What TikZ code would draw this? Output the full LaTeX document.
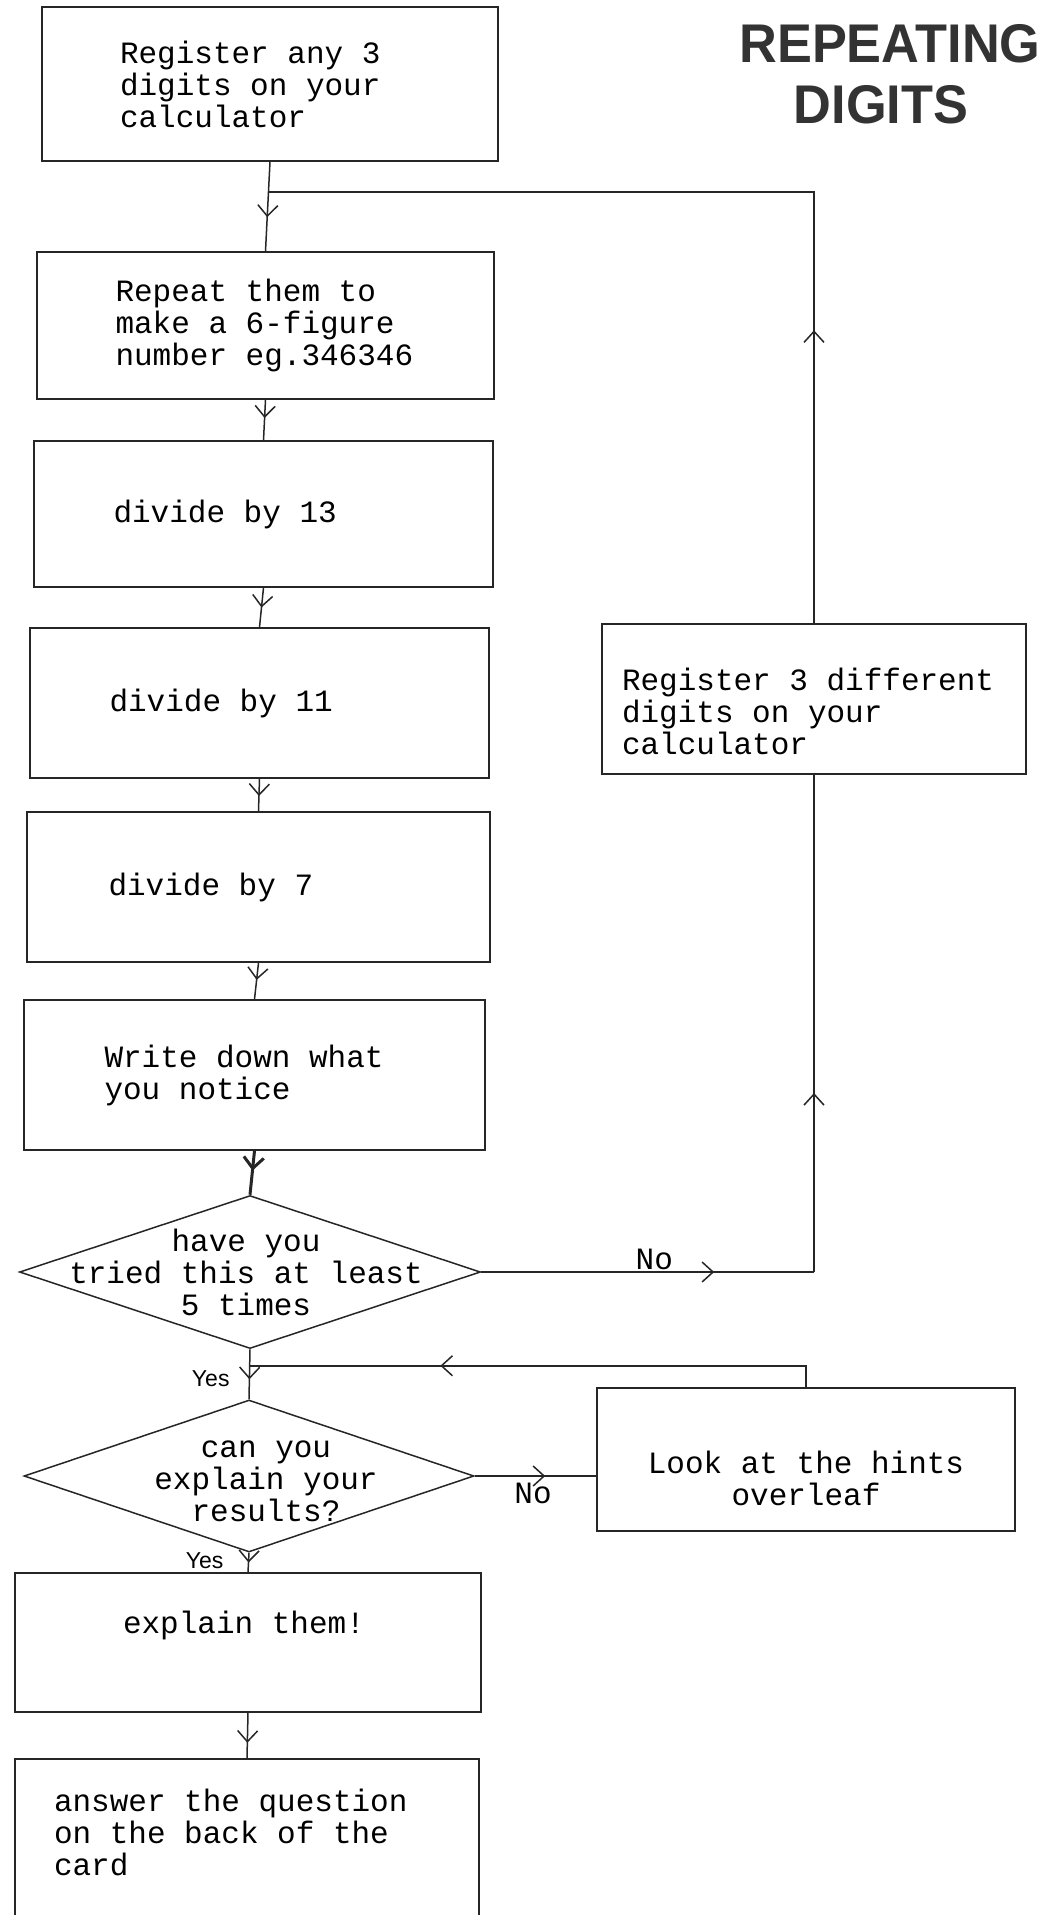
\documentclass[tikz,border=0pt]{standalone}
\usepackage{fontspec}
\usetikzlibrary{arrows.meta,shapes.geometric,decorations.markings,calc}
\newfontfamily\cardfont{Liberation Mono}
\newfontfamily\handfont{Liberation Sans}
\newfontfamily\titlefont{Liberation Sans}[FakeStretch=0.96]

\begin{document}
\begin{tikzpicture}[
    x=1pt, y=-1pt,
    stepbox/.style={
      draw=black!85,
      line width=1.5pt,
      text width=300pt,
      align=flush left,
      inner sep=0pt,
      font=\cardfont\fontsize{31}{32}\selectfont
    },
    decide/.style={
      diamond,
      draw=black!85,
      line width=1.5pt,
      inner sep=0pt
    },
    asktext/.style={align=flush center, inner sep=0pt, font=\cardfont\fontsize{31}{32}\selectfont},
    flow/.style={
      draw=black!85,
      line width=1.5pt,
      postaction={decorate},
      decoration={markings, mark=at position #1 with {\arrow{Straight Barb[length=11pt,width=20pt]}}}
    },
    flow/.default=0.5,
    yesno/.style={inner sep=0pt, font=\handfont\fontsize{23}{23}\selectfont},
    nolabel/.style={inner sep=0pt, font=\cardfont\fontsize{31}{31}\selectfont},
    titletext/.style={anchor=base, inner sep=0pt, text=black!80, font=\titlefont\bfseries\fontsize{54.5}{60}\selectfont}
  ]
    \useasboundingbox (0,0) rectangle (1055,1915);
    \clip (0,0) rectangle (1055,1915);

    \node[titletext] (titletop) at (890,62) {REPEATING};
    \node[titletext] (titlebottom) at (881,123) {DIGITS};

    \node[stepbox, minimum width=456pt, minimum height=154pt] (reg) at (270,84) {Register any 3\\digits on your\\calculator};
    \node[stepbox, minimum width=457pt, minimum height=147pt] (rep) at (265.5,325.5) {Repeat them to\\make a 6-figure\\number eg.346346};
    \node[stepbox, minimum width=459pt, minimum height=146pt] (div13) at (263.5,514) {divide by 13};
    \node[stepbox, minimum width=459pt, minimum height=150pt] (div11) at (259.5,703) {divide by 11};
    \node[stepbox, minimum width=463pt, minimum height=150pt] (div7) at (258.5,887) {divide by 7};
    \node[stepbox, minimum width=461pt, minimum height=150pt] (notice) at (254.5,1075) {Write down what\\you notice};

    \node[decide, minimum width=461pt, minimum height=153pt,
      label={[asktext, xshift=-4pt]center:{have you\\tried this at least\\5 times}}] (try) at (250,1272) {};
    \node[decide, minimum width=450pt, minimum height=152pt,
      label={[asktext, xshift=17pt, yshift=-5pt]center:{can you\\explain your\\results?}}] (canexplain) at (249,1476) {};

    \node[stepbox, minimum width=424pt, text width=384pt, text height=66pt, text depth=84pt] (again) at (814,699) {Register 3 different\\digits on your\\calculator};
    \node[stepbox, align=flush center, minimum width=418pt, text width=350pt, text height=85pt, text depth=58pt] (hints) at (806,1459.5) {Look at the hints\\overleaf};

    \node[stepbox, minimum width=466pt, text width=250pt, text height=60pt, text depth=79pt] (explain) at (248,1642.5) {explain them!};
    \node[stepbox, minimum width=464pt, text width=386pt, text height=52pt, text depth=149pt] (answer) at (247,1859.5) {answer the question\\on the back of the\\card};

    \coordinate (rejoin) at ($(reg.south)!0.34!(rep.north)$);
    \coordinate (back) at ($(try.south)!0.33!(canexplain.north)$);
    \coordinate (noturn) at (again.south |- try.east);

    \draw[flow=0.62] (reg.south) -- (rep.north);
    \draw[flow=0.45] (rep.south) -- (div13.north);
    \draw[flow] (div13.south) -- (div11.north);
    \draw[flow=0.53] (div11.south) -- (div7.north);
    \draw[flow=0.47] (div7.south) -- (notice.north);
    \draw[flow=0.45, line width=3pt] (notice.south) -- (try.north);
    \draw[flow=0.6] (try.south) -- node[yesno, pos=0.75, anchor=base east, xshift=-19pt] {Yes} (canexplain.north);
    \draw[flow=0.7] (try.east) -- node[nolabel, pos=0.52, anchor=base, yshift=3pt] {No} (noturn);
    \draw[flow=0.36] (noturn) -- (again.south);
    \draw[flow=0.30] (again.north) |- (rejoin);
    \draw[flow=0.58] (canexplain.east) -- node[nolabel, pos=0.48, anchor=base, yshift=-27pt] {No} (canexplain.east -| hints.west);
    \draw[flow=0.67] (hints.north) |- (back);
    \draw[flow] (canexplain.south) -- node[yesno, pos=0.8, anchor=base east, xshift=-24pt] {Yes} (explain.north);
    \draw[flow=0.66] (explain.south) -- (answer.north);
  \end{tikzpicture}
\end{document}
